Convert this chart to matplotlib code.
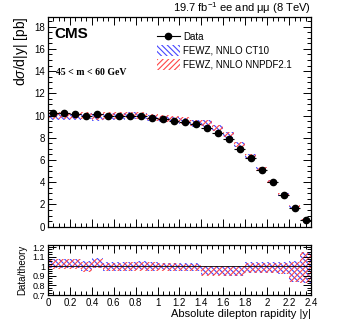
#!/usr/bin/env python3
"""
CMS dilepton rapidity cross section, 45 < m < 60 GeV, with FEWZ NNLO comparison.
"""

import matplotlib
matplotlib.use("Agg")
import matplotlib.pyplot as plt
from matplotlib.lines import Line2D
from matplotlib.patches import Patch
from matplotlib.ticker import MultipleLocator, FormatStrFormatter

plt.rcParams['font.family'] = ['Liberation Sans', 'DejaVu Sans']
plt.rcParams['mathtext.fontset'] = 'custom'
plt.rcParams['mathtext.rm'] = 'Liberation Sans'
plt.rcParams['mathtext.it'] = 'Liberation Sans:italic'
plt.rcParams['hatch.linewidth'] = 0.8

# bins in |y|
bin_edges = [round(0.1 * i, 1) for i in range(25)]

# measured d(sigma)/d|y| [pb]
data = [10.24, 10.24, 10.18, 9.95, 10.15, 9.92, 9.92, 10.0, 10.0, 9.8,
        9.65, 9.55, 9.45, 9.2, 8.86, 8.47, 7.88, 7.02, 6.21, 5.1,
        4.0, 2.84, 1.71, 0.64]
data_err = [0.12, 0.12, 0.12, 0.12, 0.12, 0.12, 0.12, 0.12, 0.12, 0.12,
            0.12, 0.12, 0.12, 0.12, 0.12, 0.12, 0.12, 0.12, 0.1, 0.1,
            0.08, 0.07, 0.06, 0.05]

# data / theory and its uncertainty
ratio_ct10 = [1.03, 1.03, 1.03, 1.0, 1.035, 0.998, 0.998, 1.0, 1.005, 1.0,
              0.997, 0.995, 0.993, 0.99, 0.955, 0.955, 0.953, 0.952, 0.988, 0.988,
              0.985, 0.983, 0.945, 0.99]
ratio_nnpdf = [1.022, 1.022, 1.022, 0.993, 1.028, 0.992, 0.992, 0.995, 1.0, 0.996,
               0.993, 0.99, 0.988, 0.985, 0.95, 0.95, 0.948, 0.947, 0.983, 0.983,
               0.98, 0.978, 0.94, 0.985]
ratio_err = [0.05, 0.05, 0.05, 0.05, 0.05, 0.045, 0.045, 0.045, 0.045, 0.045,
             0.04, 0.04, 0.04, 0.04, 0.05, 0.05, 0.05, 0.05, 0.055, 0.055,
             0.055, 0.06, 0.105, 0.16]

# relative theory uncertainty shown in the upper panel
theory_rel_unc = [0.03, 0.03, 0.03, 0.03, 0.03, 0.03, 0.03, 0.03, 0.03, 0.03,
                  0.03, 0.03, 0.03, 0.03, 0.03, 0.03, 0.03, 0.03, 0.035, 0.035,
                  0.04, 0.045, 0.05, 0.06]

BLUE = '#4646ff'
RED = '#ff4646'
HATCH_CT10 = '\\\\\\\\\\\\'
HATCH_NNPDF = '//////'


def root_ticks(ax, xmaj, xmin, ymaj, ymin):
    ax.xaxis.set_major_locator(MultipleLocator(xmaj))
    ax.xaxis.set_minor_locator(MultipleLocator(xmin))
    ax.yaxis.set_major_locator(MultipleLocator(ymaj))
    ax.yaxis.set_minor_locator(MultipleLocator(ymin))
    ax.tick_params(which='both', direction='in', top=True, right=True,
                   labelsize=7, width=0.7, pad=2)
    ax.tick_params(which='major', length=6)
    ax.tick_params(which='minor', length=3)
    for s in ax.spines.values():
        s.set_linewidth(0.9)


fig = plt.figure(figsize=(3.49, 3.35), dpi=100)
ax = fig.add_axes([0.1375, 0.3233, 0.7536, 0.627])
rax = fig.add_axes([0.1375, 0.1194, 0.7536, 0.149])

lefts = bin_edges[:-1]
centers = [e + 0.05 for e in lefts]

# theory bands in the upper panel
for ratio, color, hatch in [(ratio_ct10, BLUE, HATCH_CT10),
                            (ratio_nnpdf, RED, HATCH_NNPDF)]:
    theory = [d / r for d, r in zip(data, ratio)]
    lo = [t * (1 - u) for t, u in zip(theory, theory_rel_unc)]
    hi = [t * (1 + u) for t, u in zip(theory, theory_rel_unc)]
    ax.bar(lefts, [h - l for h, l in zip(hi, lo)], width=0.1, bottom=lo,
           align='edge', fill=False, hatch=hatch, edgecolor=color, linewidth=0)

ax.errorbar(centers, data, yerr=data_err, xerr=0.05, fmt='o', color='black',
            markersize=4.5, elinewidth=0.8, capsize=0, zorder=5)

ax.set_xlim(0, 2.4)
ax.set_ylim(0, 18.9)
root_ticks(ax, 0.2, 0.05, 2, 0.5)
ax.tick_params(labelbottom=False)
ax.yaxis.set_major_formatter(FormatStrFormatter('%g'))
ax.set_ylabel(r'd$\sigma$/d|y| [pb]', fontsize=10, loc='top', labelpad=3)

ax.text(0.025, 0.95, 'CMS', transform=ax.transAxes, fontsize=11,
        fontweight='bold', va='top', ha='left')
ax.text(0.03, 0.732, '45 < m < 60 GeV', transform=ax.transAxes, fontsize=7,
        fontweight='bold', family='Liberation Serif', va='center', ha='left')
ax.text(1.0, 1.002, r'19.7 fb$^{-1}$ ee and μμ (8 TeV)', transform=ax.transAxes,
        fontsize=8, va='bottom', ha='right')

handles = [Line2D([0], [0], color='black', marker='o', markersize=4.5, lw=0.8),
           Patch(facecolor='none', edgecolor=BLUE, hatch=HATCH_CT10, lw=0),
           Patch(facecolor='none', edgecolor=RED, hatch=HATCH_NNPDF, lw=0)]
labels = ['Data', 'FEWZ, NNLO CT10', 'FEWZ, NNLO NNPDF2.1']
ax.legend(handles, labels, loc='upper left', bbox_to_anchor=(0.414, 0.93),
          frameon=False, fontsize=7, handlelength=2.36, handleheight=1.34,
          labelspacing=0.32, handletextpad=0.35, borderaxespad=0, borderpad=0)

# ratio panel
for ratio, color, hatch in [(ratio_ct10, BLUE, HATCH_CT10),
                            (ratio_nnpdf, RED, HATCH_NNPDF)]:
    lo = [r - e for r, e in zip(ratio, ratio_err)]
    rax.bar(lefts, [2 * e for e in ratio_err], width=0.1, bottom=lo,
            align='edge', fill=False, hatch=hatch, edgecolor=color, linewidth=0)
rax.axhline(1.0, color='black', lw=0.6)

rax.set_xlim(0, 2.4)
rax.set_ylim(0.7, 1.22)
root_ticks(rax, 0.2, 0.05, 0.1, 0.025)
rax.tick_params(axis='y', labelsize=6.5)
rax.xaxis.set_major_formatter(FormatStrFormatter('%g'))
rax.yaxis.set_major_formatter(FormatStrFormatter('%g'))
rax.set_ylabel('Data/theory', fontsize=7, labelpad=4)
rax.set_xlabel('Absolute dilepton rapidity |y|', fontsize=8, loc='right',
               labelpad=1)

fig.savefig('out.png', dpi=100)
